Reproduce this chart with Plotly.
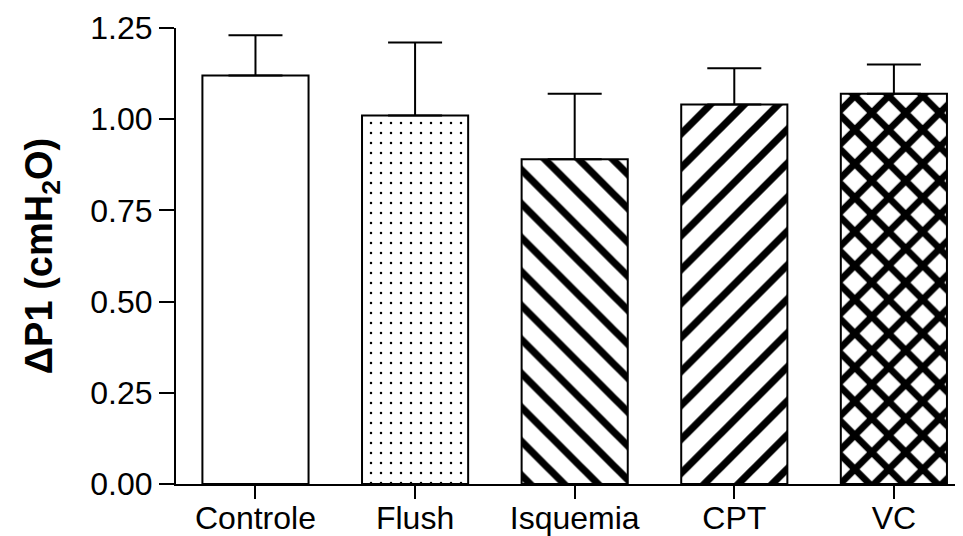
import plotly.graph_objects as go

categories = ["Controle", "Flush", "Isquemia", "CPT", "VC"]
means = [1.12, 1.01, 0.89, 1.04, 1.07]
err_upper = [0.11, 0.20, 0.18, 0.10, 0.08]
patterns = ["", ".", "\\", "/", "x"]
pattern_sizes = [10, 10, 24, 24, 24]
pattern_solidity = [0.0, 0.05, 0.3, 0.3, 0.48]
tick_vals = [0.0, 0.25, 0.5, 0.75, 1.0, 1.25]
tick_text = ["0.00", "0.25", "0.50", "0.75", "1.00", "1.25"]

FONT = "Arial, Liberation Sans, sans-serif"

fig = go.Figure()
fig.add_trace(go.Bar(
    x=categories,
    y=means,
    width=0.665,
    marker=dict(
        color="white",
        line=dict(color="black", width=2),
        pattern=dict(
            shape=patterns,
            size=pattern_sizes,
            solidity=pattern_solidity,
            fgcolor="black",
            bgcolor="white",
            fillmode="replace",
        ),
    ),
    error_y=dict(
        type="data",
        symmetric=False,
        array=err_upper,
        arrayminus=[0] * len(err_upper),
        color="black",
        thickness=2,
        width=27,
    ),
    showlegend=False,
))

fig.update_layout(
    width=955,
    height=528,
    margin=dict(l=168, r=0, t=20, b=52),
    paper_bgcolor="white",
    plot_bgcolor="white",
    bargap=0.335,
    font=dict(family=FONT, color="black", size=31),
)

fig.update_xaxes(
    range=[-0.498, 4.433],
    showline=True,
    linecolor="black",
    linewidth=2,
    ticks="outside",
    ticklen=13,
    tickwidth=2,
    tickcolor="black",
    showgrid=False,
    zeroline=False,
    automargin=False,
    ticklabelstandoff=-8,
    tickfont=dict(family=FONT, size=32, color="black"),
)

fig.update_yaxes(
    range=[0, 1.25],
    tickvals=tick_vals,
    ticktext=tick_text,
    showline=True,
    linecolor="black",
    linewidth=2,
    ticks="outside",
    ticklen=15,
    tickwidth=2,
    tickcolor="black",
    showgrid=False,
    zeroline=False,
    automargin=False,
    tickfont=dict(family=FONT, size=32, color="black"),
    title=dict(
        text="ΔP1 (cmH<sub>2</sub>O)",
        font=dict(family=FONT, size=38, color="black", weight="bold"),
        standoff=26,
    ),
)

fig.write_html("out.html")
